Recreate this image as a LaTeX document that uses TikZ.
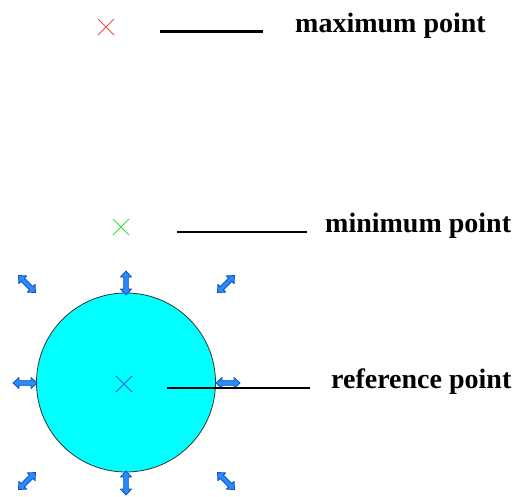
\documentclass[tikz,border=0pt]{standalone}
\usepackage{fontspec}
\setmainfont{Liberation Serif}
\usetikzlibrary{calc}
\definecolor{cyanfill}{HTML}{00FFFF}
\definecolor{arrfill}{HTML}{2A8CF5}
\definecolor{arrline}{HTML}{0A4FD0}
\definecolor{refblue}{HTML}{1E5AE6}
\definecolor{maxred}{HTML}{E8504A}
\definecolor{mingreen}{HTML}{3AE03A}
\tikzset{
  lbl/.style={font=\fontsize{28}{28}\selectfont\bfseries, anchor=base west, inner sep=0pt},
  leader/.style={line width=2.2pt, black},
  dblarrow/.pic={
    \filldraw[fill=arrfill, draw=arrline, line width=0.8pt, line join=round]
      (-12,0) -- (-6,5.5) -- (-6,2.3) -- (6,2.3) -- (6,5.5) -- (12,0)
      -- (6,-5.5) -- (6,-2.3) -- (-6,-2.3) -- (-6,-5.5) -- cycle;
  }
}
\begin{document}
\begin{tikzpicture}[x=1pt,y=-1pt]
\useasboundingbox (0,0) rectangle (517,496);
% circle
\node[circle, draw=black!80, line width=0.8pt, fill=cyanfill, minimum size=179pt, inner sep=0pt] (circ) at (126,382.5) {};
% crosses
\coordinate (refc) at (124,384);
\draw[refblue, line width=0.9pt] ($(refc)+(-8,-8)$) -- ($(refc)+(8,8)$) ($(refc)+(-8,8)$) -- ($(refc)+(8,-8)$);
\coordinate (maxc) at (106,27);
\draw[maxred, line width=0.8pt] ($(maxc)+(-8,-8)$) -- ($(maxc)+(8,8)$) ($(maxc)+(-8,8)$) -- ($(maxc)+(8,-8)$);
\coordinate (minc) at (121,227);
\draw[mingreen, line width=0.8pt] ($(minc)+(-8,-8)$) -- ($(minc)+(8,8)$) ($(minc)+(-8,8)$) -- ($(minc)+(8,-8)$);
% handles
\pic[rotate=90] at (126,283) {dblarrow};
\pic[rotate=90] at (126,483) {dblarrow};
\pic at (25,383) {dblarrow};
\pic at (228,383) {dblarrow};
\pic[rotate=-45] at (27,284) {dblarrow};
\pic[rotate=45] at (226,284) {dblarrow};
\pic[rotate=45] at (27,481) {dblarrow};
\pic[rotate=-45] at (226,481) {dblarrow};
% labels
\node[lbl] (tmax) at (295,32) {maximum point};
\node[lbl] (tmin) at (325,232) {minimum point};
\node[lbl] (tref) at (331,388) {reference point};
% leaders
\coordinate (lmax1) at (160,31.5);
\coordinate (lmax2) at (263,31.5);
\draw[leader] (lmax1) -- (lmax2);
\coordinate (lmin1) at (177,232);
\coordinate (lmin2) at (307,232);
\draw[leader] (lmin1) -- (lmin2);
\coordinate (lref1) at (167,388);
\coordinate (lref2) at (310,388);
\draw[leader] (lref1) -- (lref2);
\end{tikzpicture}
\end{document}
